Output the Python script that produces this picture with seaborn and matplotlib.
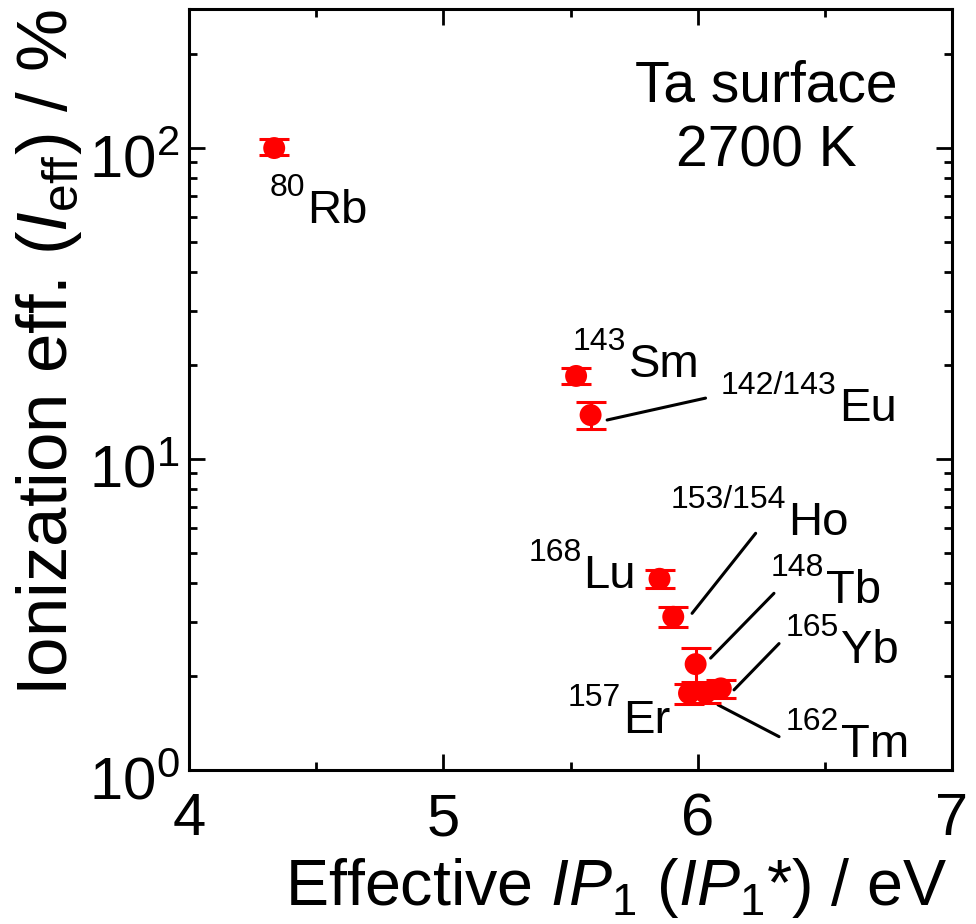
import matplotlib
matplotlib.use("Agg")
import matplotlib.pyplot as plt
import matplotlib.transforms as mtransforms
import seaborn as sns
import numpy as np
import pandas as pd
from matplotlib.ticker import LogFormatterMathtext, MultipleLocator, LogLocator

# ---- data ----
elements = ["Rb", "Sm", "Eu", "Lu", "Ho", "Tb", "Er", "Tm", "Yb"]
mass_labels = ["80", "143", "142/143", "168", "153/154", "148", "157", "162", "165"]
ip_eff = [4.335, 5.522, 5.579, 5.850, 5.904, 5.992, 5.966, 6.031, 6.091]
eff = [100.0, 18.5, 13.85, 4.12, 3.11, 2.19, 1.765, 1.77, 1.83]
err_lo = [5.2, 1.1, 1.35, 0.28, 0.23, 0.27, 0.13, 0.13, 0.13]
err_hi = [6.6, 1.1, 1.45, 0.28, 0.23, 0.27, 0.13, 0.13, 0.12]

# label anchors (data coords) for each element's main text
label_x = [4.465, 5.728, 6.555, 5.551, 6.354, 6.504, 5.705, 6.563, 6.563]
label_y = [57.4, 18.35, 13.25, 3.85, 5.70, 3.44, 1.316, 1.10, 2.21]

# leader lines (start, end) in data coords, for the labelled elements
leaders = {
    "Eu": ((5.644, 13.35), (6.031, 15.7)),
    "Ho": ((5.978, 3.19), (6.228, 5.77)),
    "Tb": ((6.051, 2.29), (6.300, 3.70)),
    "Yb": ((6.143, 1.81), (6.320, 2.55)),
    "Tm": ((6.080, 1.62), (6.320, 1.28)),
}

df = pd.DataFrame({"element": elements, "ip": ip_eff, "eff": eff})

# ---- style ----
sns.set_style("ticks")
plt.rcParams["font.family"] = ["Liberation Sans", "DejaVu Sans"]
plt.rcParams["mathtext.fontset"] = "custom"
plt.rcParams["mathtext.rm"] = "Liberation Sans"
plt.rcParams["mathtext.it"] = "Liberation Sans:italic"
plt.rcParams["mathtext.bf"] = "Liberation Sans:bold"
for k in ["text.color", "axes.labelcolor", "xtick.color", "ytick.color", "axes.edgecolor"]:
    plt.rcParams[k] = "black"

fig = plt.figure(figsize=(9.76, 9.24), dpi=100)
ax = fig.add_axes([189 / 976, 1 - 770 / 924, (952 - 189) / 976, (770 - 9) / 924])

red = "#ff0000"
ax.errorbar(df["ip"], df["eff"], yerr=[err_lo, err_hi], fmt="none",
            ecolor=red, elinewidth=2.2, capsize=10.8, capthick=2.2, zorder=2)
sns.scatterplot(data=df, x="ip", y="eff", ax=ax, color=red, s=15.8 ** 2,
                edgecolor="none", linewidth=0, zorder=3, legend=False)

ax.set_yscale("log")
ax.set_xlim(4, 7)
ax.set_ylim(1, 280)

ax.xaxis.set_major_locator(MultipleLocator(1))
ax.xaxis.set_minor_locator(MultipleLocator(0.5))
ax.yaxis.set_major_locator(LogLocator(base=10, numticks=10))
ax.yaxis.set_minor_locator(LogLocator(base=10, subs=np.arange(2, 10), numticks=20))
ax.yaxis.set_major_formatter(LogFormatterMathtext())

for s in ax.spines.values():
    s.set_linewidth(2.2)
    s.set_color("black")
ax.tick_params(which="both", direction="in", top=True, right=True, width=2.0,
               color="black", labelcolor="black")
ax.tick_params(which="major", length=11.5)
ax.tick_params(which="minor", length=5.8)
ax.tick_params(axis="x", which="major", labelsize=43, pad=16)
ax.tick_params(axis="y", which="major", labelsize=43, pad=7)

ax.set_xlabel(r"Effective $\mathit{IP}_{\mathrm{1}}$ ($\mathit{IP}_{\mathrm{1}}$*) / eV",
              fontsize=46.5)
ax.xaxis.set_label_coords(0.56, -0.113)
ax.set_ylabel(r"Ionization eff. ($\mathit{I}_{\mathrm{eff}}$) / %", fontsize=51)
ax.yaxis.set_label_coords(-0.137, 0.548)

# shift y tick labels slightly down, as in the reference
fig.canvas.draw()
offset = mtransforms.ScaledTranslation(0, -8 / 100, fig.dpi_scale_trans)
for lab in ax.get_yticklabels():
    lab.set_transform(lab.get_transform() + offset)

# element labels with superscript mass numbers
for el, m, lx, ly in zip(elements, mass_labels, label_x, label_y):
    ax.text(lx, ly, el, fontsize=34, ha="left", va="baseline", zorder=4)
    ax.annotate(m, xy=(lx, ly), xytext=(-2, 27), textcoords="offset pixels",
                fontsize=23, ha="right", va="baseline", zorder=4)

for el, (p0, p1) in leaders.items():
    ax.plot([p0[0], p1[0]], [p0[1], p1[1]], color="black", lw=2.2, zorder=1)

ax.text(0.756, 0.878, "Ta surface", transform=ax.transAxes, fontsize=41,
        ha="center", va="baseline")
ax.text(0.756, 0.793, "2700 K", transform=ax.transAxes, fontsize=41,
        ha="center", va="baseline")

fig.savefig("out.png", dpi=100)
